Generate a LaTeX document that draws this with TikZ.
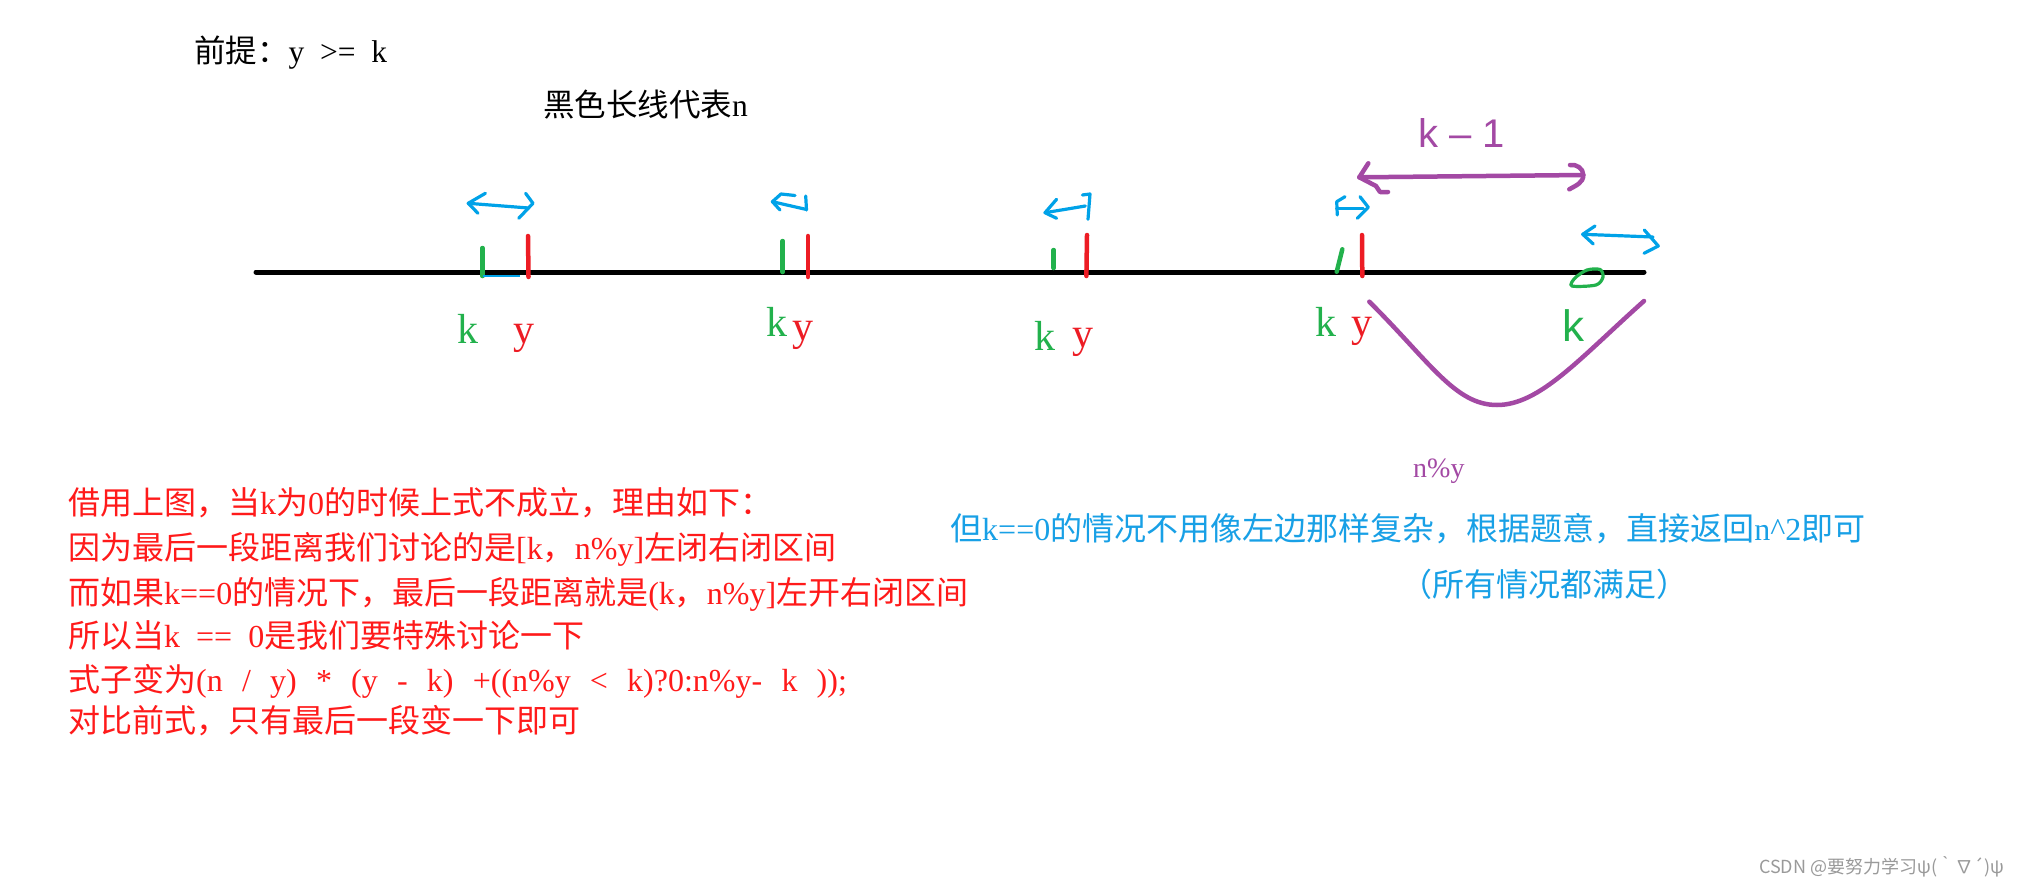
\documentclass[tikz,border=0pt]{standalone}
\usepackage{fontspec}
\setmainfont{Liberation Serif}
\newfontfamily\cjk{Noto Sans CJK SC}
\newfontfamily\lat[WordSpace=2]{Liberation Serif}
\newfontfamily\hand{Liberation Sans}
\newcommand\la[1]{{\lat #1}}
\newcommand\law[1]{{\lat\spaceskip=0.6em\relax #1}}
\definecolor{pgreen}{HTML}{22B14C}
\definecolor{pred}{HTML}{ED1C24}
\definecolor{pblue}{HTML}{00A2E8}
\definecolor{ppurple}{HTML}{A349A4}
\definecolor{tred}{HTML}{FF1A1A}
\definecolor{tblue}{HTML}{18A0E6}
\definecolor{wmark}{HTML}{9A9A9A}
\begin{document}
\begin{tikzpicture}[x=1pt,y=-1pt,
  stk/.style={line width=4.5pt,line cap=round},
  blu/.style={draw=pblue,line width=3.2pt,line cap=round,line join=round},
  pur/.style={draw=ppurple,line width=4.5pt,line cap=round,line join=round},
  redtxt/.style={text=tred,font=\cjk\fontsize{32}{40}\selectfont,anchor=base west,inner sep=0pt},
  bluetxt/.style={text=tblue,font=\cjk\fontsize{32}{40}\selectfont,anchor=base west,inner sep=0pt},
  blacktxt/.style={text=black,font=\cjk\fontsize{31.5}{40}\selectfont,anchor=base west,inner sep=0pt},
  klab/.style={text=pgreen,font=\fontsize{42}{42}\selectfont,anchor=base,inner sep=0pt},
  ylab/.style={text=pred,font=\fontsize{42}{42}\selectfont,anchor=base,inner sep=0pt}]
\useasboundingbox[fill=white] (0,0) rectangle (2019,886);

% titles
\node[blacktxt] (title) at (194,62) {前提：\la{y >= k}};
\node[blacktxt] (nline) at (543,116) {黑色长线代表\la{n}};

% main black line
\coordinate (L0) at (256,272);
\coordinate (L1) at (1644,272);
\draw[line width=5pt,line cap=round] (L0) -- (L1);

% group 1
\draw[stk,pgreen] (482.5,276) -- (482.5,248);
\draw[pblue,line width=2pt] (482.5,276) -- (520,276);
\draw[stk,pred] (528.5,277) -- (528,236);
\draw[blu] (485.4,193.3) -- (468.2,203.3) -- (478,213.3);
\draw[blu] (468.2,203.3) -- (528.5,208);
\draw[blu] (525.6,193.3) -- (533,203.3) -- (518.7,218.3);
\node[klab] (k1) at (468,343) {k};
\node[ylab] (y1) at (524,343) {y};

% group 2
\draw[stk,pgreen] (782.7,272) -- (782.7,241);
\draw[stk,pred] (808,277) -- (808,236);
\draw[blu] (795,195.5) -- (781,194) -- (772.4,201.7) -- (780,210);
\draw[blu] (772.4,201.7) -- (805.7,209.3);
\draw[blu] (805.7,196) -- (806.5,210);
\node[klab] (k2) at (777,336) {k};
\node[ylab] (y2) at (803,340) {y};

% group 3
\draw[stk,pgreen] (1053.7,268) -- (1053.7,250);
\draw[stk,pred] (1086.4,276) -- (1087,235);
\draw[blu] (1056.6,199.3) -- (1045,212.7) -- (1056.6,218.3);
\draw[blu] (1045,212.7) -- (1085.3,206);
\draw[blu] (1082.4,195) -- (1090,194) -- (1088,219.3);
\node[klab] (k3) at (1045,350) {k};
\node[ylab] (y3) at (1083,347) {y};

% group 4
\draw[stk,pgreen] (1336.7,271.7) -- (1342.3,249.3);
\draw[stk,pred] (1362.3,276) -- (1362,235);
\draw[blu] (1345,196.7) -- (1336.7,201.7) -- (1337.3,215);
\draw[blu] (1336.7,208.3) -- (1363.3,208.3);
\draw[blu] (1360,196.7) -- (1368.3,207.3) -- (1357.3,218.3);
\node[klab] (k4) at (1326,336.7) {k};
\node[ylab] (y4) at (1361.7,336.7) {y};

% purple k-1 arrow
\coordinate (PA) at (1359.3,177.3);
\coordinate (PB) at (1583.3,175);
\draw[pur] (PA) -- (PB);
\draw[pur] (1368.3,163.3) -- (PA) -- (1376,186) -- (1380,192) -- (1388,192);
\draw[pur] (1570,165) to[out=10,in=90] (PB) to[out=-90,in=30] (1569.3,189.3);
\node[anchor=base west,inner sep=0pt,text=ppurple,font=\hand\fontsize{40}{40}\selectfont] (km1) at (1418,147) {k – 1};

% last segment: green zero blob, blue arrow, handwritten k
\draw[pgreen,line width=3.2pt] plot[smooth cycle] coordinates {(1572,286) (1575,278) (1587,270) (1600,269.5) (1603,277) (1596,285)};
\draw[blu] (1582.7,234.3) -- (1653,237);
\draw[blu] (1595,226) -- (1582.7,234.3) -- (1593.3,244);
\draw[blu] (1644.3,230) -- (1658.3,246) -- (1644,253.3);
\node[anchor=base west,inner sep=0pt,text=pgreen,font=\hand\fontsize{44}{44}\selectfont] (k5) at (1562,341) {k};

% purple n%y curve
\coordinate (C0) at (1369.3,301.7);
\coordinate (C1) at (1497,405);
\coordinate (C2) at (1644,301);
\draw[pur] (C0) .. controls (1430,362) and (1455,405) .. (C1) .. controls (1540,405) and (1580,358) .. (C2);
\node[anchor=base west,inner sep=0pt,text=ppurple,font=\fontsize{28}{28}\selectfont] (nmy) at (1413,477) {n\%y};

% red explanation
\node[redtxt] (r1) at (68,514) {借用上图，当\la{k}为\la{0}的时候上式不成立，理由如下：};
\node[redtxt] (r2) at (68,559) {因为最后一段距离我们讨论的是\la{[k}，\la{n\%y]}左闭右闭区间};
\node[redtxt] (r3) at (68,604) {而如果\la{k==0}的情况下，最后一段距离就是\la{(k}，\la{n\%y]}左开右闭区间};
\node[redtxt] (r4) at (68,647) {所以当\la{k == 0}是我们要特殊讨论一下};
\node[redtxt] (r5) at (68,691) {式子变为\law{(n / y) * (y - k) +((n\%y < k)?0:n\%y- k ));}};
\node[redtxt] (r6) at (68,732) {对比前式，只有最后一段变一下即可};

% blue explanation
\node[bluetxt] (b1) at (950,540) {但\la{k==0}的情况不用像左边那样复杂，根据题意，直接返回\la{n\textasciicircum 2}即可};
\node[bluetxt] (b2) at (1400,596) {（所有情况都满足）};

% watermark
\node[anchor=base west,inner sep=0pt,text=wmark,font=\cjk\fontsize{18}{18}\selectfont] (wm) at (1759,873) {CSDN @要努力学习ψ(｀∇´)ψ};
\end{tikzpicture}
\end{document}
